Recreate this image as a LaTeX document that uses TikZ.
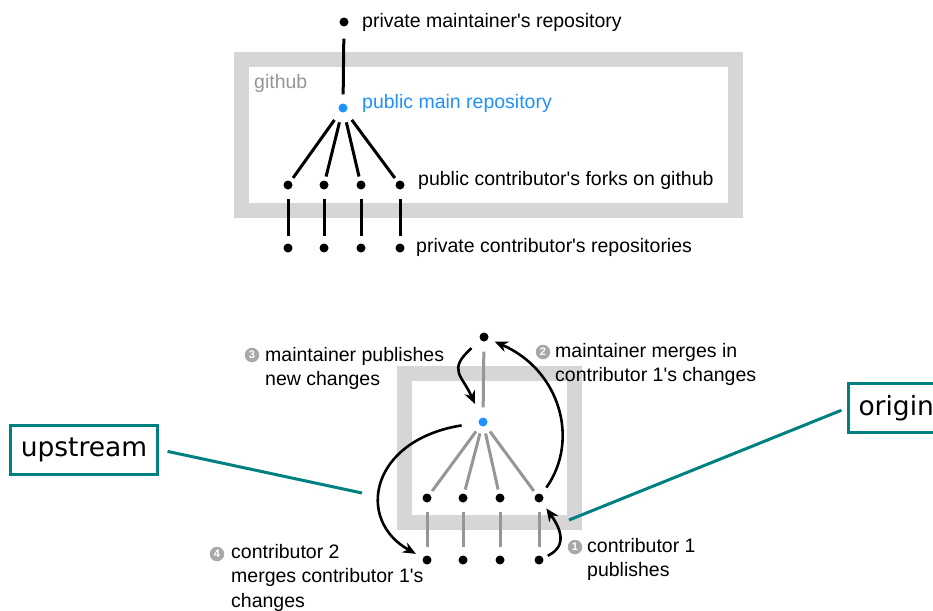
\documentclass[tikz,border=0pt]{standalone}
\usepackage{fontspec}
\setmainfont{Liberation Sans}
\newfontfamily\dejavu{DejaVu Sans}
\usetikzlibrary{arrows.meta}
\definecolor{tealc}{RGB}{0,128,128}
\definecolor{framec}{RGB}{214,214,214}
\definecolor{bluec}{RGB}{30,144,255}
\definecolor{glinec}{RGB}{150,150,150}
\definecolor{numc}{RGB}{168,168,168}
\definecolor{gtextc}{RGB}{150,150,150}
\newcommand\myap{\textquotesingle}
\begin{document}
\begin{tikzpicture}[x=1pt,y=-1pt,
  dot/.style={circle,fill=black,inner sep=0pt,minimum size=9pt},
  bdot/.style={dot,fill=bluec},
  lbl/.style={anchor=base west,inner sep=0pt,font=\fontsize{19.5}{24.5}\selectfont,align=left},
  bl/.style={line width=3pt},
  gl/.style={line width=3pt,draw=glinec},
  frm/.style={draw=framec,line width=15pt},
  arr/.style={line width=2.6pt,-{Stealth[length=13pt,width=11pt]}},
  num/.style={circle,fill=numc,text=white,inner sep=0pt,minimum size=14.5pt,font=\fontsize{11}{11}\selectfont\bfseries},
  callout/.style={draw=tealc,line width=3pt,fill=white,font=\dejavu\fontsize{26.5}{30}\selectfont,inner xsep=10pt,inner ysep=0pt,minimum height=49pt},
  tl/.style={draw=tealc,line width=3pt},
]
\useasboundingbox (0,0) rectangle (933,610);
\clip (0,0) rectangle (933,610);

% frames
\draw[frm] (241.5,59.5) rectangle (735.5,210.5);
\draw[frm] (404.5,373.5) rectangle (574.5,522.5);

% top diagram
\node[dot] (pm) at (344,22) {};
\node[lbl] (pmL) at (362,28) {private maintainer\myap s repository};
\node[lbl,text=gtextc] (gh) at (254,88) {github};
\node[bdot] (pub) at (343,108) {};
\node[lbl,text=bluec] (pubL) at (362,108) {public main repository};
\foreach \i/\x in {1/288,2/324,3/361,4/400}{
  \node[dot] (f\i) at (\x,185) {};
  \node[dot] (p\i) at (\x,248) {};
}
\node[lbl] (fL) at (418,185) {public contributor\myap s forks on github};
\node[lbl] (pL) at (416,252) {private contributor\myap s repositories};
\draw[bl,shorten <=12pt,shorten >=9pt] (pm) -- (pub);
\foreach \i in {1,2,3,4}{
  \draw[bl,shorten <=10pt,shorten >=4pt] (pub) -- (f\i);
  \draw[bl,shorten <=9pt,shorten >=7pt] (f\i) -- (p\i);
}

% bottom diagram
\node[dot] (bm) at (484,337) {};
\node[bdot] (bpub) at (483,422) {};
\foreach \i/\x in {1/427,2/463,3/500,4/539}{
  \node[dot] (bf\i) at (\x,498) {};
  \node[dot] (bp\i) at (\x,560) {};
}
\draw[gl,shorten <=10pt,shorten >=10pt] (bm) -- (bpub);
\foreach \i in {1,2,3,4}{
  \draw[gl,shorten <=7pt,shorten >=4pt] (bpub) -- (bf\i);
  \draw[gl,shorten <=9pt,shorten >=8pt] (bf\i) -- (bp\i);
}

% arrows
\draw[arr,shorten <=12pt,shorten >=15pt] (bm) .. controls (447,370) and (462,375) .. (bpub);
\draw[arr,shorten <=8pt,shorten >=7pt] (bf4) .. controls (580,440) and (560,370) .. (bm);
\draw[arr,shorten <=17pt,shorten >=8pt] (bpub) .. controls (370,440) and (355,520) .. (bp1);
\draw[arr,shorten <=5pt,shorten >=8pt] (bp4) .. controls (570,545) and (558,525) .. (bf4);

% step labels (base anchor of a multi-line node = last line's baseline)
\node[num] (n3) at (252,355) {3};
\node[lbl] (l3) at (265,385.5) {maintainer publishes\\new changes};
\node[num] (n2) at (543,352) {2};
\node[lbl] (l2) at (555,381.5) {maintainer merges in\\contributor 1\myap s changes};
\node[num] (n1) at (575,547) {1};
\node[lbl] (l1) at (587,576.5) {contributor 1\\publishes};
\node[num] (n4) at (217,554) {4};
\node[lbl] (l4) at (231,607) {contributor 2\\merges contributor 1\myap s\\changes};

% callouts
\node[callout] (up) at (84,449.5) {upstream};
\node[callout,anchor=west] (org) at (847,408) {origin};
\coordinate (ue) at (362,493);
\coordinate (oe) at (569,520);
\draw[tl,shorten <=9pt] (up.east) -- (ue);
\draw[tl,shorten <=6pt] (org.west) -- (oe);
\end{tikzpicture}
\end{document}
